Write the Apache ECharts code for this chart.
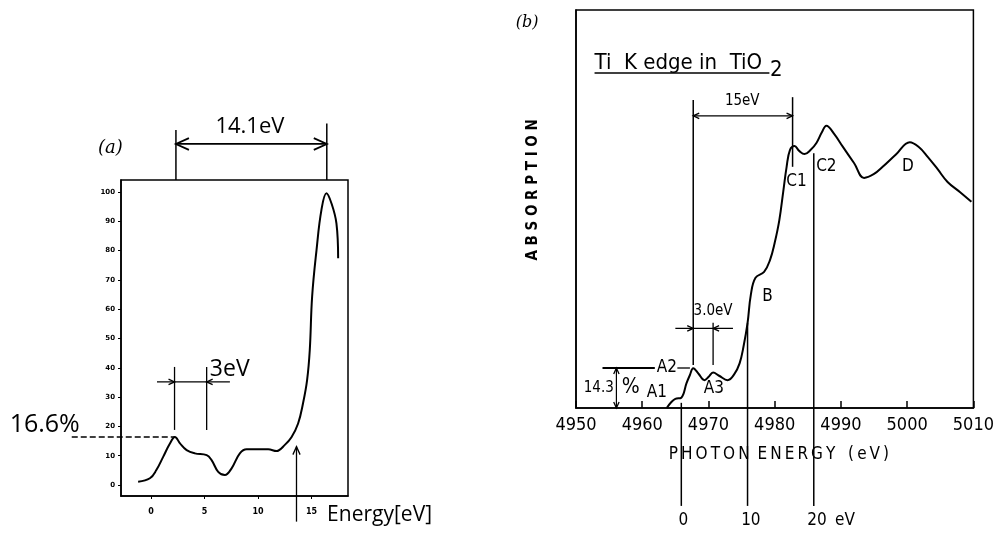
<!DOCTYPE html>
<html>
<head>
<meta charset="utf-8">
<script src="https://cdn.jsdelivr.net/npm/echarts@6/dist/echarts.min.js"></script>
<style>
html, body { margin: 0; padding: 0; background: #fff; }
#main { width: 997px; height: 534px; }
</style>
</head>
<body>
<div id="main"></div>
<script>
// panel (a): absorption (%) against energy (eV)
var aEnergy = [-1.2, -0.1, 0.5, 1.15, 1.77, 2.24, 2.71, 3.33, 4.1, 5.2, 5.66, 6.28, 6.9, 7.53, 8.3, 8.93, 10.17, 10.95, 11.72, 12.5, 13.12, 13.74, 14.2, 14.58, 14.83, 15.05, 15.46, 15.92, 16.39, 16.86, 17.32, 17.48];
var aAbs = [1.1, 2.3, 5.1, 9.7, 14.2, 16.4, 14.2, 11.9, 10.8, 10.2, 8.5, 4.5, 3.4, 5.7, 10.8, 12.2, 12.2, 12.2, 11.6, 13.7, 16.3, 21.0, 27.9, 35.8, 46.1, 64.3, 80.2, 93.9, 99.6, 96.1, 89.3, 77.4];
var aXTicks = [0, 5, 10, 15];
var aYTicks = [0, 10, 20, 30, 40, 50, 60, 70, 80, 90, 100];

// panel (b): Ti K edge in TiO2
var bEnergy = [4963.7, 4964.4, 4965.0, 4965.9, 4966.7, 4967.2, 4967.7, 4968.5, 4969.4, 4970.0, 4970.7, 4971.6, 4972.9, 4973.9, 4974.7, 4975.3, 4975.9, 4976.4, 4977.1, 4978.4, 4979.3, 4980.0, 4980.7, 4981.3, 4981.8, 4982.3, 4983.0, 4983.7, 4984.5, 4985.4, 4986.3, 4987.1, 4987.8, 4989.0, 4990.3, 4992.0, 4993.5, 4995.0, 4996.3, 4998.3, 5000.4, 5001.8, 5003.1, 5004.6, 5006.1, 5008.0, 5009.7];
var bAbs = [0, 1.5, 2.3, 2.6, 6.3, 8.3, 10.0, 8.6, 7.0, 7.8, 8.9, 8.1, 7.0, 8.5, 11.2, 15.5, 21.3, 28.5, 32.7, 34.2, 37.2, 41.5, 47.2, 54.5, 60.6, 64.8, 65.8, 64.6, 63.8, 64.8, 66.6, 69.2, 70.9, 68.8, 65.6, 61.5, 57.8, 58.8, 60.6, 63.7, 66.8, 65.5, 63.1, 60.0, 56.8, 54.2, 51.8];
var bZero = 4965.9;          // origin of the relative eV scale
var bScale = [0, 10, 20];    // relative scale marks under panel (b)

function zip(xs, ys) {
  return xs.map(function (x, i) { return [x, ys[i]]; });
}

var myChart = echarts.init(document.getElementById('main'));

var option = {
  animation: false,
  backgroundColor: '#fff',
  grid: [
    { left: 121, top: 180, width: 227, height: 316, show: true, borderColor: '#000', borderWidth: 1.5 },
    { left: 576, top: 10, width: 402, height: 398, show: true, borderColor: '#000', borderWidth: 1.5 }
  ],
  xAxis: [
    {
      gridIndex: 0, type: 'value', min: -2.8, max: 18.4,
      splitLine: { show: false },
      axisLine: { onZero: false, lineStyle: { color: '#000', width: 1.5 } },
      axisTick: { customValues: aXTicks, length: 3, lineStyle: { color: '#000' } },
      axisLabel: { customValues: aXTicks, color: '#000', fontSize: 8, fontWeight: 'bold', fontFamily: 'DejaVu Sans', margin: 12 }
    },
    {
      gridIndex: 1, type: 'value', min: 4950, max: 5010, interval: 10,
      splitLine: { show: false },
      axisLine: { onZero: false, lineStyle: { color: '#000', width: 1.5 } },
      axisTick: { inside: true, length: 7, lineStyle: { color: '#000', width: 1.5 } },
      axisLabel: { color: '#000', fontSize: 18, fontFamily: 'DejaVu Sans Condensed', margin: 8,
        formatter: function (v) { return String(v); } }
    }
  ],
  yAxis: [
    {
      gridIndex: 0, type: 'value', min: -3.75, max: 104.1,
      splitLine: { show: false },
      axisLine: { onZero: false, lineStyle: { color: '#000', width: 1.5 } },
      axisTick: { customValues: aYTicks, length: 3, lineStyle: { color: '#000' } },
      axisLabel: { customValues: aYTicks, color: '#000', fontSize: 7, fontWeight: 'bold', fontFamily: 'DejaVu Sans', margin: 6 }
    },
    {
      gridIndex: 1, type: 'value', min: 0, max: 100,
      splitLine: { show: false },
      axisLine: { onZero: false, lineStyle: { color: '#000', width: 1.5 } },
      axisTick: { show: false },
      axisLabel: { show: false }
    }
  ],
  series: [
    {
      type: 'line', xAxisIndex: 0, yAxisIndex: 0, smooth: 0.4, showSymbol: false,
      lineStyle: { color: '#000', width: 2 },
      data: zip(aEnergy, aAbs)
    },
    {
      type: 'line', xAxisIndex: 1, yAxisIndex: 1, smooth: 0.4, showSymbol: false,
      lineStyle: { color: '#000', width: 2 },
      data: zip(bEnergy, bAbs)
    }
  ]
};

myChart.setOption(option);

// annotations, placed in data units and converted through the grids
function pa(x, y) { return myChart.convertToPixel({ gridIndex: 0 }, [x, y]); }
function pb(x, y) { return myChart.convertToPixel({ gridIndex: 1 }, [x, y]); }

var g = [];
function seg(p, q, w, dash) {
  g.push({ type: 'line', shape: { x1: p[0], y1: p[1], x2: q[0], y2: q[1] },
    style: { stroke: '#000', lineWidth: w || 1.3, lineDash: dash || null }, z: 10 });
}
function head(tip, from, size, w) {
  var dx = tip[0] - from[0], dy = tip[1] - from[1];
  var l = Math.sqrt(dx * dx + dy * dy);
  dx /= l; dy /= l;
  var bx = tip[0] - dx * size, by = tip[1] - dy * size;
  var nx = -dy * size * 0.45, ny = dx * size * 0.45;
  g.push({ type: 'polyline', shape: { points: [[bx + nx, by + ny], tip, [bx - nx, by - ny]] },
    style: { stroke: '#000', fill: null, lineWidth: w || 1.3 }, z: 10 });
}
function txt(p, s, font, align, rot) {
  var el = { type: 'text', z: 11, x: p[0], y: p[1],
    style: { text: s, x: 0, y: 0, fill: '#000', font: font, align: align || 'center', verticalAlign: 'middle' } };
  if (rot) el.rotation = rot;
  g.push(el);
}

// ---- panel (a)
txt(pa(-4.95, 115), '(a)', 'italic 18px "DejaVu Serif"', 'left');
seg(pa(2.33, 104.1), pa(2.33, 121.2), 1.5);
seg(pa(16.42, 104.1), pa(16.42, 123.4), 1.5);
seg(pa(2.33, 116.4), pa(16.42, 116.4), 1.8);
head(pa(2.33, 116.4), pa(5, 116.4), 13, 1.8);
head(pa(16.42, 116.4), pa(13, 116.4), 13, 1.8);
txt(pa(9.24, 122.2), '14.1eV', '22px "Open Sans"');

seg(pa(-7.4, 16.4), pa(2.24, 16.4), 1.5, [6, 3]);
txt(pa(-13.2, 20.5), '16.6%', '25px "Open Sans"', 'left');

seg(pa(2.2, 18.8), pa(2.2, 40.3), 1.3);
seg(pa(5.2, 18.8), pa(5.2, 40.3), 1.3);
seg(pa(0.56, 35.2), pa(7.37, 35.2), 1.3);
head(pa(2.2, 35.2), pa(0.56, 35.2), 6);
head(pa(5.2, 35.2), pa(7.37, 35.2), 6);
txt(pa(5.5, 39.6), '3eV', '23px "Open Sans"', 'left');

seg(pa(13.59, -12.5), pa(13.59, 13.1), 1.3);
head(pa(13.59, 13.1), pa(13.59, 0), 8);
txt(pa(16.45, -10.3), 'Energy[eV]', '21px "Open Sans"', 'left');

// ---- panel (b)
txt(pb(4940.9, 96.7), '(b)', 'italic 16px "DejaVu Serif"', 'left');
txt(pb(4952.8, 86.6), 'Ti  K edge in  TiO', '22px "DejaVu Sans Condensed"', 'left');
txt(pb(4979.3, 84.8), '2', '22px "DejaVu Sans Condensed"', 'left');
seg(pb(4952.8, 84.2), pb(4979.2, 84.2), 1.5);
txt(pb(4943.5, 54.8), 'A B S O R P T I O N', 'bold 15px "DejaVu Sans Condensed"', 'center', Math.PI / 2);

// 15 eV between A2 and C1
seg(pb(4967.7, 10.8), pb(4967.7, 77.4), 1.5);
seg(pb(4982.7, 60.6), pb(4982.7, 78.1), 1.5);
seg(pb(4967.7, 73.4), pb(4982.7, 73.4), 1.2);
head(pb(4967.7, 73.4), pb(4972, 73.4), 6);
head(pb(4982.7, 73.4), pb(4978, 73.4), 6);
txt(pb(4975.1, 77.2), '15eV', '15px "DejaVu Sans Condensed"');

// 3.0 eV between A2 and A3
seg(pb(4970.7, 10.8), pb(4970.7, 21.4), 1.3);
seg(pb(4965.0, 20.0), pb(4973.7, 20.0), 1.2);
head(pb(4967.7, 20.0), pb(4965.0, 20.0), 6);
head(pb(4970.7, 20.0), pb(4973.7, 20.0), 6);
txt(pb(4970.7, 24.3), '3.0eV', '15px "DejaVu Sans Condensed"');

// A2 level and 14.3 %
seg(pb(4954.0, 10.05), pb(4961.9, 10.05), 1.8);
txt(pb(4962.2, 10.05), 'A2', '17px "DejaVu Sans Condensed"', 'left');
seg(pb(4965.3, 10.05), pb(4967.2, 10.05), 1.3);
seg(pb(4956.1, 0), pb(4956.1, 10.05), 1.2);
head(pb(4956.1, 10.05), pb(4956.1, 5), 6);
head(pb(4956.1, 0), pb(4956.1, 5), 6);
txt(pb(4955.7, 5.0), '14.3', '15px "DejaVu Sans Condensed"', 'right');
txt(pb(4956.9, 5.1), '%', '21px "DejaVu Sans Condensed"', 'left');

txt(pb(4962.2, 3.8), 'A1', '17px "DejaVu Sans Condensed"');
txt(pb(4970.8, 4.9), 'A3', '17px "DejaVu Sans Condensed"');
txt(pb(4978.9, 27.9), 'B', '17px "DejaVu Sans Condensed"');
txt(pb(4983.3, 56.8), 'C1', '17px "DejaVu Sans Condensed"');
txt(pb(4987.8, 60.6), 'C2', '17px "DejaVu Sans Condensed"');
txt(pb(5000.1, 60.6), 'D', '17px "DejaVu Sans Condensed"');

// relative energy scale lines (0, 10, 20 eV)
var scaleTop = [1.3, 21.4, 64];
bScale.forEach(function (v, i) {
  seg(pb(bZero + v, scaleTop[i]), pb(bZero + v, -24.6), 1.5);
  txt(pb(bZero + v + (i === 0 ? 0.3 : 0.5), -28.2), String(v), '17px "DejaVu Sans Condensed"');
});
txt(pb(4990.6, -28.2), 'eV', '17px "DejaVu Sans Condensed"');
txt(pb(4964.0, -11.6), 'P\u2009H\u2009O\u2009T\u2009O\u2009N\u2009 E\u2009N\u2009E\u2009R\u2009G\u2009Y\u2009  (\u2009e\u2009V\u2009)', '17px "DejaVu Sans Condensed"', 'left');

myChart.setOption({ graphic: { elements: g } });
</script>
</body>
</html>
